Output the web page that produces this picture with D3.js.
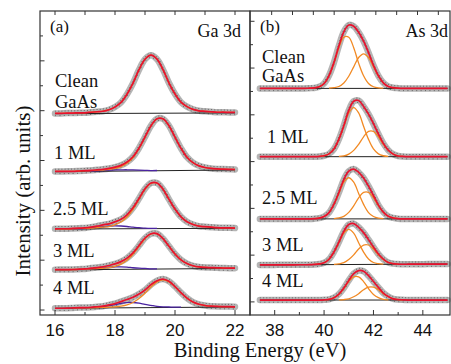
<!DOCTYPE html>
<html>
<head>
<meta charset="utf-8">
<script src="https://cdn.jsdelivr.net/npm/d3@7"></script>
<style>
  body { margin: 0; background: #fff; }
  svg { display: block; }
  text { font-family: "Liberation Serif", "DejaVu Serif", serif; }
  text.tick { font-family: "Liberation Sans", Arial, sans-serif; }
</style>
</head>
<body>
<div id="chart"></div>
<script>
// binding energy grids (eV)
const gaEnergy = [16.0,16.2,16.4,16.6,16.8,17.0,17.2,17.4,17.6,17.8,18.0,18.2,18.4,18.6,18.8,19.0,19.2,19.4,19.6,19.8,20.0,20.2,20.4,20.6,20.8,21.0,21.2,21.4,21.6,21.8,22.0];
const asEnergy = [37.4,37.6,37.8,38.0,38.2,38.4,38.6,38.8,39.0,39.2,39.4,39.6,39.8,40.0,40.2,40.4,40.6,40.8,41.0,41.2,41.4,41.6,41.8,42.0,42.2,42.4,42.6,42.8,43.0,43.2,43.4,43.6,43.8,44.0,44.2,44.4,44.6,44.8,45.0];

const sampleNames = [['Clean', 'GaAs'], ['1 ML'], ['2.5 ML'], ['3 ML'], ['4 ML']];

// Ga 3d: linear background [left, right] and fitted components (above background)
const gaBackground = [[7.88, 7.91], [5.55, 5.62], [3.25, 3.28], [1.61, 1.67], [0.07, 0.12]];
const gaMainClean = [0.01,0.01,0.02,0.02,0.03,0.03,0.05,0.07,0.09,0.15,0.26,0.44,0.77,1.21,1.75,2.17,2.33,2.17,1.75,1.21,0.77,0.44,0.26,0.15,0.09,0.07,0.05,0.03,0.03,0.02,0.02];
const gaMain1ML = [0.01,0.01,0.01,0.01,0.02,0.02,0.03,0.04,0.05,0.07,0.11,0.18,0.31,0.53,0.89,1.34,1.80,2.08,2.08,1.80,1.34,0.89,0.53,0.31,0.18,0.11,0.07,0.05,0.04,0.03,0.02];
const gaMain25ML = [0.01,0.01,0.01,0.01,0.02,0.02,0.03,0.05,0.07,0.09,0.16,0.27,0.47,0.78,1.17,1.58,1.82,1.82,1.58,1.17,0.78,0.47,0.27,0.16,0.09,0.07,0.05,0.03,0.02,0.02,0.01];
const gaMain3ML = [0.01,0.01,0.01,0.01,0.01,0.02,0.03,0.04,0.05,0.07,0.12,0.21,0.36,0.60,0.91,1.22,1.41,1.41,1.22,0.91,0.60,0.36,0.21,0.12,0.07,0.05,0.04,0.03,0.02,0.01,0.01];
const gaMain4ML = [0,0,0,0.01,0.01,0.01,0.01,0.02,0.02,0.03,0.04,0.07,0.12,0.21,0.37,0.58,0.83,1.03,1.11,1.03,0.83,0.58,0.37,0.21,0.12,0.07,0.04,0.03,0.02,0.02,0.01];
const gaLow1ML = [0,0,0,0,0,0.01,0.01,0.02,0.03,0.04,0.05,0.05,0.05,0.04,0.03,0.02,0.01,0.01,0,0,0,0,0,0,0,0,0,0,0,0,0];
const gaLow25ML = [0,0,0,0.01,0.01,0.02,0.04,0.06,0.09,0.11,0.12,0.11,0.09,0.06,0.04,0.02,0.01,0.01,0,0,0,0,0,0,0,0,0,0,0,0,0];
const gaLow3ML = [0,0,0,0,0.01,0.01,0.03,0.04,0.06,0.09,0.10,0.10,0.09,0.06,0.04,0.03,0.01,0.01,0,0,0,0,0,0,0,0,0,0,0,0,0];
const gaLow4ML = [0,0,0,0,0.01,0.01,0.02,0.03,0.05,0.09,0.13,0.18,0.21,0.21,0.18,0.13,0.09,0.05,0.03,0.02,0.01,0.01,0,0,0,0,0,0,0,0,0];

// As 3d: background and the 3d5/2, 3d3/2 doublet components
const asBackground = [[9.13, 9.13], [6.21, 6.21], [3.55, 3.55], [1.58, 1.62], [0.08, 0.08]];
const as52Clean = [0,0,0,0,0,0,0,0,0,0,0.01,0.02,0.07,0.21,0.54,1.08,1.74,2.19,2.19,1.74,1.08,0.54,0.21,0.07,0.02,0.01,0,0,0,0,0,0,0,0,0,0,0,0,0];
const as32Clean = [0,0,0,0,0,0,0,0,0,0,0,0,0,0,0.01,0.03,0.08,0.23,0.52,0.92,1.32,1.48,1.32,0.92,0.52,0.23,0.08,0.03,0.01,0,0,0,0,0,0,0,0,0,0];
const as52_1ML = [0,0,0,0,0,0,0,0,0,0,0,0,0.01,0.04,0.12,0.33,0.74,1.30,1.87,2.10,1.87,1.30,0.74,0.33,0.12,0.04,0.01,0,0,0,0,0,0,0,0,0,0,0,0];
const as32_1ML = [0,0,0,0,0,0,0,0,0,0,0,0,0,0,0,0,0.01,0.03,0.11,0.27,0.53,0.85,1.08,1.08,0.85,0.53,0.27,0.11,0.03,0.01,0,0,0,0,0,0,0,0,0];
const as52_25ML = [0,0,0,0,0,0,0,0,0,0,0,0.01,0.03,0.10,0.27,0.62,1.09,1.57,1.76,1.57,1.09,0.62,0.27,0.10,0.03,0.01,0,0,0,0,0,0,0,0,0,0,0,0,0];
const as32_25ML = [0,0,0,0,0,0,0,0,0,0,0,0,0,0,0,0.01,0.04,0.11,0.28,0.56,0.90,1.13,1.13,0.90,0.56,0.28,0.11,0.04,0.01,0,0,0,0,0,0,0,0,0,0];
const as52_3ML = [0,0,0,0,0,0,0,0,0,0,0,0.01,0.03,0.08,0.23,0.53,0.93,1.34,1.50,1.34,0.93,0.53,0.23,0.08,0.03,0.01,0,0,0,0,0,0,0,0,0,0,0,0,0];
const as32_3ML = [0,0,0,0,0,0,0,0,0,0,0,0,0,0,0,0.01,0.03,0.08,0.21,0.41,0.66,0.83,0.83,0.66,0.41,0.21,0.08,0.03,0.01,0,0,0,0,0,0,0,0,0,0];
const as52_4ML = [0,0,0,0,0,0,0,0,0,0,0,0,0,0.01,0.03,0.10,0.24,0.49,0.79,0.99,0.99,0.79,0.49,0.24,0.10,0.03,0.01,0,0,0,0,0,0,0,0,0,0,0,0];
const as32_4ML = [0,0,0,0,0,0,0,0,0,0,0,0,0,0,0,0,0.01,0.02,0.05,0.14,0.27,0.44,0.55,0.55,0.44,0.27,0.14,0.05,0.02,0.01,0,0,0,0,0,0,0,0,0];

const gaTicks = [16, 17, 18, 19, 20, 21, 22];
const asTicks = [38, 39, 40, 41, 42, 43, 44];

const width = 451, height = 364;
const plotTop = 11, plotBottom = 315;

const colors = { data: '#b5b5b5', fit: '#e8112d', main: '#f28a24', low: '#4a23a0', bg: '#222' };

const svg = d3.select('#chart').append('svg')
    .attr('width', width)
    .attr('height', height);

function drawPanel(p) {
    const x = d3.scaleLinear().domain(p.xDomain).range([p.left, p.right]);
    const y = d3.scaleLinear().domain(p.yDomain).range([plotBottom, plotTop]);
    const g = svg.append('g');
    const e0 = p.energy[0], e1 = p.energy[p.energy.length - 1];

    const line = d3.line()
        .defined(d => d.show)
        .x(d => x(d.e))
        .y(d => y(d.v))
        .curve(d3.curveCatmullRom);

    p.spectra.forEach(s => {
        s.comps.forEach(c => {
            if (c.values.length !== p.energy.length) throw new Error('length mismatch');
        });
        const bg = d3.scaleLinear().domain([e0, e1]).range(s.bg);
        const fit = p.energy.map((e, i) => ({ e, show: true, v: bg(e) + d3.sum(s.comps, c => c.values[i]) }));

        // measured points: dense grey band with dark specks
        g.append('path').datum(fit).attr('d', line)
            .attr('fill', 'none').attr('stroke', colors.data)
            .attr('stroke-width', 6.5).attr('stroke-linecap', 'round');
        [-2.2, 2.2].forEach((off, j) => {
            g.append('path').datum(fit).attr('d', line)
                .attr('transform', `translate(0,${off})`)
                .attr('fill', 'none').attr('stroke', '#444')
                .attr('stroke-width', 0.7)
                .attr('stroke-dasharray', j ? '1 3.4' : '1 2.2');
        });

        // background line
        g.append('line')
            .attr('x1', x(e0)).attr('y1', y(s.bg[0]))
            .attr('x2', x(e1)).attr('y2', y(s.bg[1]))
            .attr('stroke', colors.bg).attr('stroke-width', 1);

        // components
        s.comps.forEach(c => {
            const pts = p.energy.map((e, i) => ({ e, show: c.values[i] > 0.004, v: bg(e) + c.values[i] }));
            g.append('path').datum(pts).attr('d', line)
                .attr('fill', 'none').attr('stroke', colors[c.kind]).attr('stroke-width', 1.3);
        });

        // envelope
        g.append('path').datum(fit).attr('d', line)
            .attr('fill', 'none').attr('stroke', colors.fit).attr('stroke-width', 1.7);
    });

    // frame
    g.append('rect')
        .attr('x', p.left).attr('y', plotTop)
        .attr('width', p.right - p.left).attr('height', plotBottom - plotTop)
        .attr('fill', 'none').attr('stroke', '#333').attr('stroke-width', 1.2);

    // bottom ticks + labels
    p.ticks.forEach(t => {
        const major = t % 2 === 0;
        g.append('line')
            .attr('x1', x(t)).attr('x2', x(t))
            .attr('y1', plotBottom).attr('y2', plotBottom - (major ? 5 : 3))
            .attr('stroke', '#333');
        if (major) {
            g.append('text')
                .attr('class', 'tick')
                .attr('x', x(t)).attr('y', 336)
                .attr('text-anchor', 'middle')
                .attr('font-size', 17).attr('fill', '#111')
                .text(t);
        }
    });

    // top ticks
    const xt = d3.scaleLinear().domain(p.topDomain).range([p.left, p.right]);
    p.topTicks.forEach(t => {
        g.append('line')
            .attr('x1', xt(t)).attr('x2', xt(t))
            .attr('y1', plotTop).attr('y2', plotTop + 4)
            .attr('stroke', '#333');
    });

    // left ticks
    d3.range(p.yTickCount).forEach(k => {
        g.append('line')
            .attr('x1', p.left).attr('x2', p.left + (k % 2 === 0 ? 4.5 : 3))
            .attr('y1', y(k)).attr('y2', y(k))
            .attr('stroke', '#333');
    });

    // panel letter and core level
    g.append('text').attr('x', p.left + 10).attr('y', 32)
        .attr('font-size', 17).attr('fill', '#111').text(p.letter);
    g.append('text').attr('x', p.right - p.titleInset).attr('y', 36.5)
        .attr('text-anchor', 'end')
        .attr('font-size', 18).attr('fill', '#111').text(p.title);

    // sample labels
    sampleNames.forEach((lines, k) => {
        lines.forEach((str, j) => {
            g.append('text')
                .attr('x', p.labelX[k]).attr('y', p.labelY[k][j])
                .attr('font-size', 18.5).attr('fill', '#111')
                .text(str);
        });
    });
}

drawPanel({
    left: 40, right: 250,
    xDomain: [15.5, 22.5], yDomain: [-0.2, 12],
    energy: gaEnergy,
    ticks: gaTicks,
    topDomain: [15.5, 22.5], topTicks: gaTicks,
    yTickCount: 12,
    letter: '(a)', title: 'Ga 3d', titleInset: 9,
    labelX: [55, 54, 53, 53, 53],
    labelY: [[87, 108], [159], [215], [257], [294]],
    spectra: [
        { bg: gaBackground[0], comps: [{ kind: 'main', values: gaMainClean }] },
        { bg: gaBackground[1], comps: [{ kind: 'low', values: gaLow1ML }, { kind: 'main', values: gaMain1ML }] },
        { bg: gaBackground[2], comps: [{ kind: 'low', values: gaLow25ML }, { kind: 'main', values: gaMain25ML }] },
        { bg: gaBackground[3], comps: [{ kind: 'low', values: gaLow3ML }, { kind: 'main', values: gaMain3ML }] },
        { bg: gaBackground[4], comps: [{ kind: 'low', values: gaLow4ML }, { kind: 'main', values: gaMain4ML }] }
    ]
});

drawPanel({
    left: 250, right: 450,
    xDomain: [37, 45.1], yDomain: [-0.56, 12.44],
    energy: asEnergy,
    ticks: asTicks,
    topDomain: [36.96, 46.56], topTicks: [38, 39, 40, 41, 42, 43, 44, 45, 46],
    yTickCount: 13,
    letter: '(b)', title: 'As 3d', titleInset: 2,
    labelX: [262, 267, 262, 262, 262],
    labelY: [[62.7, 81.7], [143.3], [204.3], [251], [287.3]],
    spectra: [
        { bg: asBackground[0], comps: [{ kind: 'main', values: as52Clean }, { kind: 'main', values: as32Clean }] },
        { bg: asBackground[1], comps: [{ kind: 'main', values: as52_1ML }, { kind: 'main', values: as32_1ML }] },
        { bg: asBackground[2], comps: [{ kind: 'main', values: as52_25ML }, { kind: 'main', values: as32_25ML }] },
        { bg: asBackground[3], comps: [{ kind: 'main', values: as52_3ML }, { kind: 'main', values: as32_3ML }] },
        { bg: asBackground[4], comps: [{ kind: 'main', values: as52_4ML }, { kind: 'main', values: as32_4ML }] }
    ]
});

// axis titles
svg.append('text')
    .attr('transform', 'translate(29.5,191) rotate(-90)')
    .attr('text-anchor', 'middle')
    .attr('font-size', 21).attr('fill', '#111')
    .text('Intensity (arb. units)');

svg.append('text')
    .attr('x', 260).attr('y', 357)
    .attr('text-anchor', 'middle')
    .attr('font-size', 20.5).attr('fill', '#111')
    .text('Binding Energy (eV)');
</script>
</body>
</html>
